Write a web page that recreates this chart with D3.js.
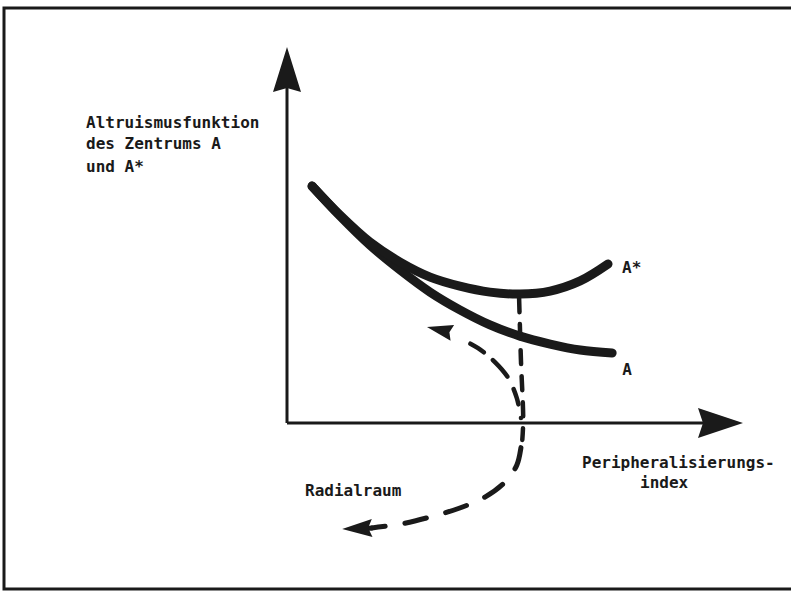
<!DOCTYPE html>
<html><head><meta charset="utf-8">
<script src="https://cdn.jsdelivr.net/npm/d3@7"></script>
<style>
html,body{margin:0;padding:0;background:#fff;}
text{font-family:"DejaVu Sans Mono",monospace;font-weight:bold;font-size:16px;fill:#1a1a1a;}
</style></head>
<body>
<svg id="chart" width="791" height="591"></svg>
<script>
// Conceptual coordinates (0..100 on each axis; origin at axis crossing)
const curveA_x     = [5.5, 11.6, 18.2, 24.8, 31.4, 37.9, 44.5, 51.1, 57.7, 64.3, 71.3];
const curveA_y     = [63.0, 55.1, 47.3, 40.7, 34.8, 30.1, 26.1, 23.1, 21.0, 19.4, 18.6];
const curveAS_x    = [5.5, 11.6, 18.2, 24.8, 31.4, 37.9, 44.5, 51.1, 57.7, 64.3, 70.4];
const curveAS_y    = [63.0, 55.3, 48.1, 42.8, 38.8, 36.4, 34.8, 34.3, 35.1, 37.8, 42.3];
// dashed drop line from A* minimum down to the x axis and beyond
const dropLine_x   = [50.9, 51.3, 51.8, 51.6];
const dropLine_y   = [33.2, 16.8, 0.8, -4.5];
// dashed curve below the axis towards "Radialraum"
const radial_x     = [51.6, 51.4, 50.4, 47.8, 43.4, 37.9, 31.4, 24.8, 18.6];
const radial_y     = [-4.5, -5.9, -11.2, -15.7, -19.7, -22.6, -25.0, -26.9, -27.9];
const radialTip    = [12.1, -28.2];
// dashed curve bending up-left
const upLeft_x     = [51.3, 50.4, 48.5, 45.6, 41.9, 36.8, 33.6];
const upLeft_y     = [1.3, 6.6, 12.0, 16.2, 19.9, 23.1, 24.7];
const upLeftTip    = [30.7, 25.5];
// axes
const axisX = [0, 100];
const axisY = [0, 100];
// texts
const yTitle = ["Altruismusfunktion", "des Zentrums A", "und A*"];
const xTitle = ["Peripheralisierungs-", "index"];
const labelA = "A", labelAS = "A*", labelRadial = "Radialraum";

const svg = d3.select("#chart");
const x = d3.scaleLinear().domain([0, 100]).range([287, 743]);
const y = d3.scaleLinear().domain([0, 100]).range([423, 47]);
const ink = "#1a1a1a";

// frame (open on the right, as in the scan)
svg.append("path").attr("d", "M791,8 L4,8 L4,589 L791,589")
  .attr("fill", "none").attr("stroke", ink).attr("stroke-width", 3);

function arrowHead(tipPx, fromPx, len, half, notch) {
  const dx = tipPx[0] - fromPx[0], dy = tipPx[1] - fromPx[1];
  const d = Math.hypot(dx, dy), ux = dx / d, uy = dy / d;
  const px = -uy, py = ux;
  const bx = tipPx[0] - ux * len, by = tipPx[1] - uy * len;
  const nx = tipPx[0] - ux * (len - notch), ny = tipPx[1] - uy * (len - notch);
  svg.append("path")
    .attr("d", `M${tipPx[0]},${tipPx[1]} L${bx + px * half},${by + py * half} L${nx},${ny} L${bx - px * half},${by - py * half} Z`)
    .attr("fill", ink);
}

// axes
svg.append("line").attr("x1", x(axisX[0])).attr("y1", y(0)).attr("x2", x(axisX[1]) - 30).attr("y2", y(0))
  .attr("stroke", ink).attr("stroke-width", 3);
svg.append("line").attr("x1", x(0)).attr("y1", y(axisY[0])).attr("x2", x(0)).attr("y2", y(axisY[1]) + 30)
  .attr("stroke", ink).attr("stroke-width", 3);
arrowHead([x(axisX[1]), y(0)], [x(0), y(0)], 45, 15, 5);
arrowHead([x(0), y(axisY[1])], [x(0), y(0)], 45, 14, 4);

const lineGen = d3.line().x(d => x(d[0])).y(d => y(d[1])).curve(d3.curveCatmullRom.alpha(0.5));
const zip = (a, b) => a.map((v, i) => [v, b[i]]);

// curves
svg.append("path").attr("d", lineGen(zip(curveA_x, curveA_y)))
  .attr("fill", "none").attr("stroke", ink).attr("stroke-width", 9).attr("stroke-linecap", "round");
svg.append("path").attr("d", lineGen(zip(curveAS_x, curveAS_y)))
  .attr("fill", "none").attr("stroke", ink).attr("stroke-width", 9).attr("stroke-linecap", "round");

// dashed lines
svg.append("path").attr("d", lineGen(zip(dropLine_x, dropLine_y)))
  .attr("fill", "none").attr("stroke", ink).attr("stroke-width", 4.5)
  .attr("stroke-dasharray", "14 12").attr("stroke-linecap", "round");
svg.append("path").attr("d", lineGen(zip(radial_x, radial_y)))
  .attr("fill", "none").attr("stroke", ink).attr("stroke-width", 5)
  .attr("stroke-dasharray", "22 20").attr("stroke-dashoffset", -8).attr("stroke-linecap", "round");
svg.append("path").attr("d", lineGen(zip(upLeft_x, upLeft_y)))
  .attr("fill", "none").attr("stroke", ink).attr("stroke-width", 4.5)
  .attr("stroke-dasharray", "0 14 16 14 22 12 16 30").attr("stroke-linecap", "round");

const rl = radial_x.length - 1;
svg.append("line").attr("x1", x(radial_x[rl])).attr("y1", y(radial_y[rl]))
  .attr("x2", x(radialTip[0]) + 20).attr("y2", y(radialTip[1]))
  .attr("stroke", ink).attr("stroke-width", 5).attr("stroke-linecap", "round");
arrowHead([x(radialTip[0]), y(radialTip[1])], [x(radial_x[rl]), y(radial_y[rl])], 30, 9, 4);
const ul = upLeft_x.length - 1;
arrowHead([x(upLeftTip[0]), y(upLeftTip[1])], [x(upLeft_x[ul]), y(upLeft_y[ul])], 26, 8, 3);

// texts
yTitle.forEach((t, i) => svg.append("text").attr("x", 86).attr("y", [128, 149, 172][i]).text(t));
svg.append("text").attr("x", 582).attr("y", 468).text(xTitle[0]);
svg.append("text").attr("x", 640).attr("y", 488).text(xTitle[1]);
svg.append("text").attr("x", x(curveAS_x[curveAS_x.length - 1]) + 14).attr("y", 273).text(labelAS);
svg.append("text").attr("x", x(curveA_x[curveA_x.length - 1]) + 10).attr("y", 375).text(labelA);
svg.append("text").attr("x", 305).attr("y", 496).text(labelRadial);
</script>
</body></html>
